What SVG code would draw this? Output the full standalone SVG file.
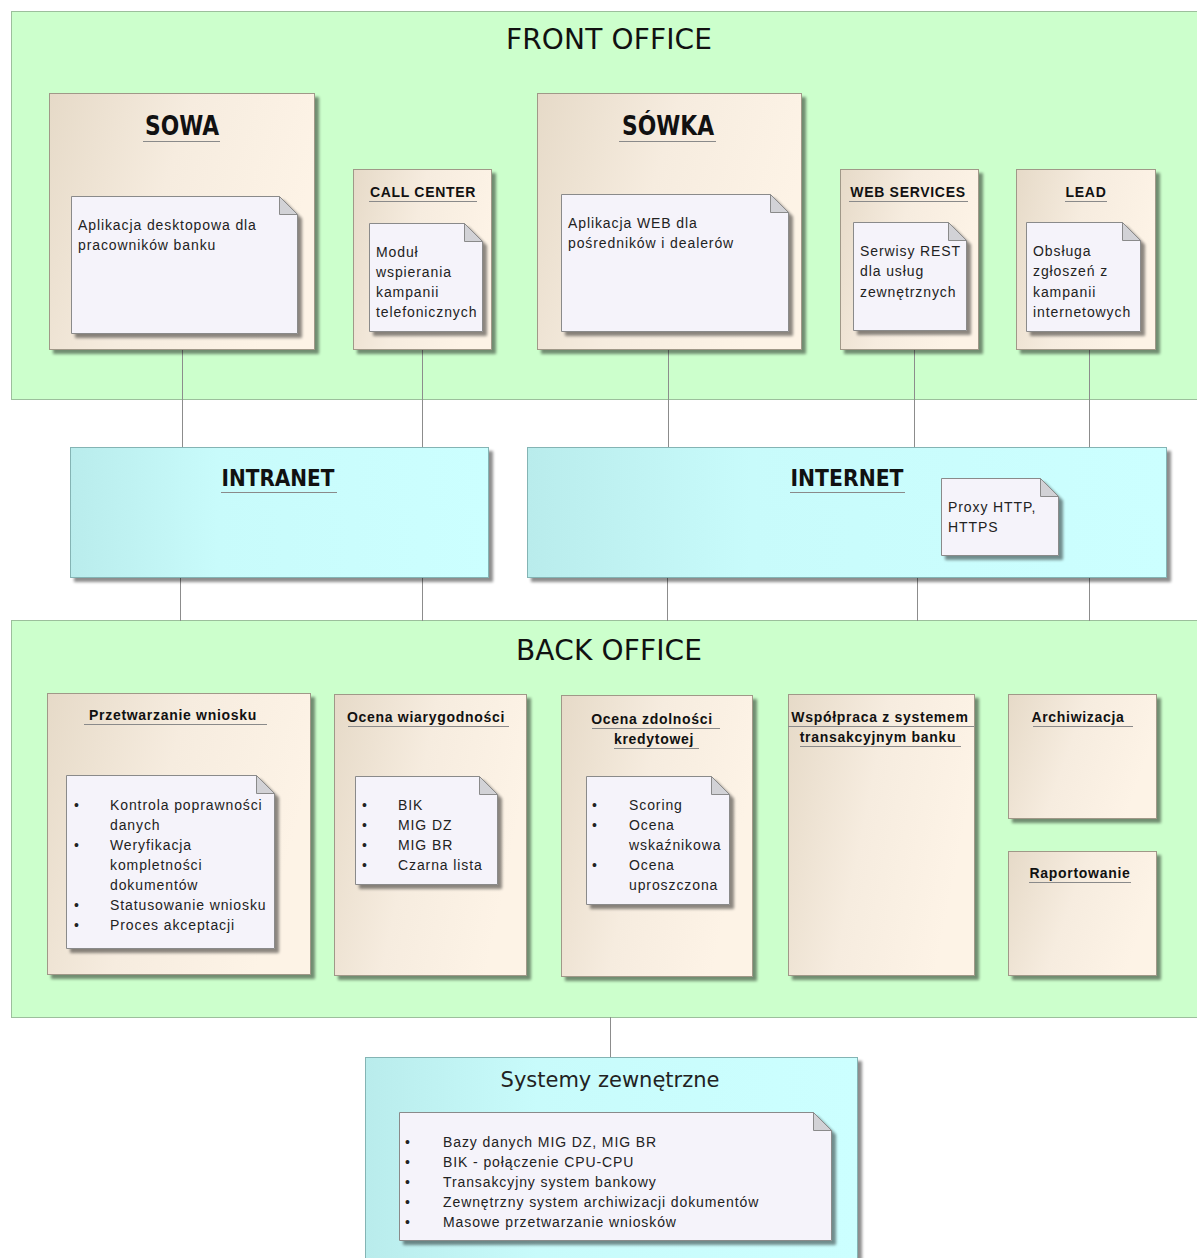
<svg xmlns="http://www.w3.org/2000/svg" width="1197" height="1258" viewBox="0 0 1197 1258">
<defs>
<linearGradient id="beige" x1="0" y1="0" x2="1" y2="0.3">
<stop offset="0" stop-color="#e6dac8"/><stop offset="0.5" stop-color="#f6ecdf"/><stop offset="1" stop-color="#fdf3e6"/>
</linearGradient>
<linearGradient id="cyan" x1="0" y1="0" x2="1" y2="0">
<stop offset="0" stop-color="#b9ecec"/><stop offset="0.35" stop-color="#c8fbfb"/><stop offset="1" stop-color="#ccffff"/>
</linearGradient>
<filter id="sh" x="-5%" y="-5%" width="115%" height="115%">
<feGaussianBlur in="SourceAlpha" stdDeviation="1.5"/><feOffset dx="4" dy="4"/>
<feComponentTransfer><feFuncA type="linear" slope="0.45"/></feComponentTransfer>
<feMerge><feMergeNode/><feMergeNode in="SourceGraphic"/></feMerge>
</filter>
</defs>
<style>
.cont{fill:#ccffcc;stroke:#9cbf9c;stroke-width:1}
.box{fill:url(#beige);stroke:#a09888;stroke-width:1;filter:url(#sh)}
.net{fill:url(#cyan);stroke:#84b4b4;stroke-width:1;filter:url(#sh)}
.note{fill:#f5f3fa;stroke:#8a8a8a;stroke-width:1;filter:url(#sh)}
.fold{fill:#d2d2d6;stroke:#8a8a8a;stroke-width:1}
.big{font-family:"DejaVu Sans",sans-serif;font-size:28px;fill:#111;text-anchor:middle}
.sub{font-family:"DejaVu Sans",sans-serif;font-size:21px;fill:#222;text-anchor:middle}
.ttl{font-family:"DejaVu Sans Condensed","DejaVu Sans",sans-serif;font-size:26px;font-weight:bold;fill:#111;text-anchor:middle}
.ttl2{font-family:"DejaVu Sans Condensed","DejaVu Sans",sans-serif;font-size:23px;font-weight:bold;fill:#111;text-anchor:middle}
.hdr{font-family:"Liberation Sans",Arial,sans-serif;font-size:14px;font-weight:bold;fill:#111;text-anchor:middle;letter-spacing:0.7px}
.txt{font-family:"Liberation Sans",Arial,sans-serif;font-size:14px;fill:#222;letter-spacing:0.9px}
.ul{stroke:#8a8a8a;stroke-width:1}
.con{stroke:#8c8c8c;stroke-width:1;fill:none}
</style>

<g id="front-office">
<rect class="cont" x="11.5" y="11.5" width="1190" height="388"/>
<text class="big" x="609" y="49" textLength="206">FRONT OFFICE</text>
</g>
<g id="back-office">
<rect class="cont" x="11.5" y="620.5" width="1190" height="397"/>
<text class="big" x="609" y="660" textLength="186">BACK OFFICE</text>
</g>

<g id="connectors">
<line class="con" x1="182.5" y1="350" x2="182.5" y2="448"/>
<line class="con" x1="422.5" y1="350" x2="422.5" y2="448"/>
<line class="con" x1="668.5" y1="350" x2="668.5" y2="448"/>
<line class="con" x1="914.5" y1="350" x2="914.5" y2="448"/>
<line class="con" x1="1089.5" y1="350" x2="1089.5" y2="448"/>
<line class="con" x1="180.5" y1="578" x2="180.5" y2="621"/>
<line class="con" x1="422.5" y1="578" x2="422.5" y2="621"/>
<line class="con" x1="667.5" y1="578" x2="667.5" y2="621"/>
<line class="con" x1="917.5" y1="578" x2="917.5" y2="621"/>
<line class="con" x1="1089.5" y1="578" x2="1089.5" y2="621"/>
<line class="con" x1="610.5" y1="1017" x2="610.5" y2="1058"/>
</g>

<g id="sowa">
<rect class="box" x="49.5" y="93.5" width="265" height="256"/>
<text class="ttl" x="182" y="135" textLength="74" lengthAdjust="spacingAndGlyphs">SOWA</text>
<line class="ul" x1="143" y1="141.5" x2="220" y2="141.5"/>
<path class="note" d="M71.5 196.5H279.5L297.5 214.5V333.5H71.5Z"/>
<path class="fold" d="M279.5 196.5V214.5H297.5Z"/>
<text class="txt" x="78" y="230">Aplikacja desktopowa dla</text>
<text class="txt" x="78" y="250">pracowników banku</text>
</g>

<g id="call-center">
<rect class="box" x="353.5" y="169.5" width="138" height="180"/>
<text class="hdr" x="423" y="197">CALL CENTER</text>
<line class="ul" x1="369" y1="201.5" x2="477" y2="201.5"/>
<path class="note" d="M369.5 223.5H464.5L482.5 241.5V331.5H369.5Z"/>
<path class="fold" d="M464.5 223.5V241.5H482.5Z"/>
<text class="txt" x="376" y="257">Moduł</text>
<text class="txt" x="376" y="277">wspierania</text>
<text class="txt" x="376" y="297">kampanii</text>
<text class="txt" x="376" y="317" letter-spacing="0.3">telefonicznych</text>
</g>

<g id="sowka">
<rect class="box" x="537.5" y="93.5" width="264" height="256"/>
<text class="ttl" x="668" y="135" textLength="92" lengthAdjust="spacingAndGlyphs">SÓWKA</text>
<line class="ul" x1="619" y1="141.5" x2="716" y2="141.5"/>
<path class="note" d="M561.5 194.5H770.5L788.5 212.5V331.5H561.5Z"/>
<path class="fold" d="M770.5 194.5V212.5H788.5Z"/>
<text class="txt" x="568" y="228">Aplikacja WEB dla</text>
<text class="txt" x="568" y="248">pośredników i dealerów</text>
</g>

<g id="web-services">
<rect class="box" x="840.5" y="169.5" width="138" height="180"/>
<text class="hdr" x="908" y="197">WEB SERVICES</text>
<line class="ul" x1="849" y1="201.5" x2="968" y2="201.5"/>
<path class="note" d="M853.5 222.5H948.5L966.5 240.5V330.5H853.5Z"/>
<path class="fold" d="M948.5 222.5V240.5H966.5Z"/>
<text class="txt" x="860" y="256">Serwisy REST</text>
<text class="txt" x="860" y="276">dla usług</text>
<text class="txt" x="860" y="297">zewnętrznych</text>
</g>

<g id="lead">
<rect class="box" x="1016.5" y="169.5" width="139" height="180"/>
<text class="hdr" x="1086" y="197">LEAD</text>
<line class="ul" x1="1065" y1="201.5" x2="1107" y2="201.5"/>
<path class="note" d="M1026.5 222.5H1122.5L1140.5 240.5V331.5H1026.5Z"/>
<path class="fold" d="M1122.5 222.5V240.5H1140.5Z"/>
<text class="txt" x="1033" y="256">Obsługa</text>
<text class="txt" x="1033" y="276">zgłoszeń z</text>
<text class="txt" x="1033" y="297">kampanii</text>
<text class="txt" x="1033" y="317" letter-spacing="0.3">internetowych</text>
</g>

<g id="intranet">
<rect class="net" x="70.5" y="447.5" width="418" height="130"/>
<text class="ttl2" x="278" y="486" textLength="113" lengthAdjust="spacingAndGlyphs">INTRANET</text>
<line class="ul" x1="221" y1="492.5" x2="337" y2="492.5"/>
</g>

<g id="internet">
<rect class="net" x="527.5" y="447.5" width="639" height="130"/>
<text class="ttl2" x="847" y="486" textLength="113" lengthAdjust="spacingAndGlyphs">INTERNET</text>
<line class="ul" x1="790" y1="492.5" x2="905" y2="492.5"/>
<path class="note" d="M941.5 478.5H1040.5L1058.5 496.5V555.5H941.5Z"/>
<path class="fold" d="M1040.5 478.5V496.5H1058.5Z"/>
<text class="txt" x="948" y="512" letter-spacing="0.4">Proxy HTTP,</text>
<text class="txt" x="948" y="532" letter-spacing="0.4">HTTPS</text>
</g>

<g id="przetwarzanie">
<rect class="box" x="47.5" y="693.5" width="263" height="281"/>
<text class="hdr" x="173" y="720">Przetwarzanie wniosku</text>
<line class="ul" x1="84" y1="724.5" x2="267" y2="724.5"/>
<path class="note" d="M66.5 775.5H256.5L274.5 793.5V948.5H66.5Z"/>
<path class="fold" d="M256.5 775.5V793.5H274.5Z"/>
<g class="txt">
<text x="74" y="810">•</text><text x="110" y="810">Kontrola poprawności</text>
<text x="110" y="830">danych</text>
<text x="74" y="850">•</text><text x="110" y="850">Weryfikacja</text>
<text x="110" y="870">kompletności</text>
<text x="110" y="890">dokumentów</text>
<text x="74" y="910">•</text><text x="110" y="910">Statusowanie wniosku</text>
<text x="74" y="930">•</text><text x="110" y="930">Proces akceptacji</text>
</g>
</g>

<g id="ocena-wiarygodnosci">
<rect class="box" x="334.5" y="694.5" width="192" height="281"/>
<text class="hdr" x="426" y="722">Ocena wiarygodności</text>
<line class="ul" x1="348" y1="726.5" x2="509" y2="726.5"/>
<path class="note" d="M355.5 776.5H479.5L497.5 794.5V884.5H355.5Z"/>
<path class="fold" d="M479.5 776.5V794.5H497.5Z"/>
<g class="txt">
<text x="362" y="810">•</text><text x="398" y="810">BIK</text>
<text x="362" y="830">•</text><text x="398" y="830">MIG DZ</text>
<text x="362" y="850">•</text><text x="398" y="850">MIG BR</text>
<text x="362" y="870">•</text><text x="398" y="870">Czarna lista</text>
</g>
</g>

<g id="ocena-zdolnosci">
<rect class="box" x="561.5" y="695.5" width="191" height="281"/>
<text class="hdr" x="652" y="724">Ocena zdolności</text>
<line class="ul" x1="592" y1="728.5" x2="720" y2="728.5"/>
<text class="hdr" x="654" y="744">kredytowej</text>
<line class="ul" x1="614" y1="748.5" x2="699" y2="748.5"/>
<path class="note" d="M586.5 776.5H711.5L729.5 794.5V904.5H586.5Z"/>
<path class="fold" d="M711.5 776.5V794.5H729.5Z"/>
<g class="txt">
<text x="592" y="810">•</text><text x="629" y="810">Scoring</text>
<text x="592" y="830">•</text><text x="629" y="830">Ocena</text>
<text x="629" y="850">wskaźnikowa</text>
<text x="592" y="870">•</text><text x="629" y="870">Ocena</text>
<text x="629" y="890">uproszczona</text>
</g>
</g>

<g id="wspolpraca">
<rect class="box" x="788.5" y="694.5" width="186" height="281"/>
<text class="hdr" x="880" y="722">Współpraca z systemem</text>
<line class="ul" x1="788" y1="726.5" x2="974" y2="726.5"/>
<text class="hdr" x="878" y="742">transakcyjnym banku</text>
<line class="ul" x1="800" y1="746.5" x2="961" y2="746.5"/>
</g>

<g id="archiwizacja">
<rect class="box" x="1008.5" y="694.5" width="148" height="124"/>
<text class="hdr" x="1078" y="722">Archiwizacja</text>
<line class="ul" x1="1033" y1="726.5" x2="1133" y2="726.5"/>
</g>

<g id="raportowanie">
<rect class="box" x="1008.5" y="851.5" width="148" height="124"/>
<text class="hdr" x="1080" y="878">Raportowanie</text>
<line class="ul" x1="1029" y1="882.5" x2="1131" y2="882.5"/>
</g>

<g id="systemy-zewnetrzne">
<rect class="net" x="365.5" y="1057.5" width="492" height="210"/>
<text class="sub" x="610" y="1087">Systemy zewnętrzne</text>
<path class="note" d="M399.5 1112.5H813.5L831.5 1130.5V1240.5H399.5Z"/>
<path class="fold" d="M813.5 1112.5V1130.5H831.5Z"/>
<g class="txt">
<text x="405" y="1147">•</text><text x="443" y="1147">Bazy danych MIG DZ, MIG BR</text>
<text x="405" y="1167">•</text><text x="443" y="1167">BIK - połączenie CPU-CPU</text>
<text x="405" y="1187">•</text><text x="443" y="1187">Transakcyjny system bankowy</text>
<text x="405" y="1207">•</text><text x="443" y="1207">Zewnętrzny system archiwizacji dokumentów</text>
<text x="405" y="1227">•</text><text x="443" y="1227">Masowe przetwarzanie wniosków</text>
</g>
</g>
</svg>
